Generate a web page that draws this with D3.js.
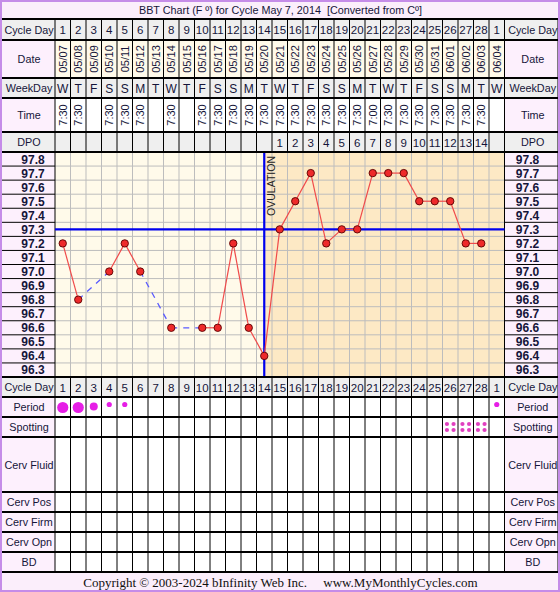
<!DOCTYPE html>
<html><head><meta charset="utf-8">
<script src="https://cdn.jsdelivr.net/npm/d3@7"></script>
<style>
html,body{margin:0;padding:0;background:#fff;}
svg{display:block;font-family:"Liberation Sans",Arial,sans-serif;}
</style></head>
<body><div id="chart"></div>
<script>
// ---- data ----
const cycleDays = ["1","2","3","4","5","6","7","8","9","10","11","12","13","14","15","16","17","18","19","20","21","22","23","24","25","26","27","28","1"];
const dates = ["05/07","05/08","05/09","05/10","05/11","05/12","05/13","05/14","05/15","05/16","05/17","05/18","05/19","05/20","05/21","05/22","05/23","05/24","05/25","05/26","05/27","05/28","05/29","05/30","05/31","06/01","06/02","06/03","06/04"];
const weekDays = ["W","T","F","S","S","M","T","W","T","F","S","S","M","T","W","T","F","S","S","M","T","W","T","F","S","S","M","T","W"];
const times = ["7:30","7:30","","7:30","7:30","7:30","","7:30","","7:30","7:30","7:30","7:30","7:30","7:30","7:30","7:30","7:30","7:30","7:30","7:00","7:30","7:30","7:30","7:30","7:30","7:30","7:30",""];
const dpo = ["","","","","","","","","","","","","","","1","2","3","4","5","6","7","8","9","10","11","12","13","14",""];
const temps = [97.2,96.8,null,97.0,97.2,97.0,null,96.6,null,96.6,96.6,97.2,96.6,96.4,97.3,97.5,97.7,97.2,97.3,97.3,97.7,97.7,97.7,97.5,97.5,97.5,97.2,97.2,null];
const tempTicks = [97.8,97.7,97.6,97.5,97.4,97.3,97.2,97.1,97.0,96.9,96.8,96.7,96.6,96.5,96.4,96.3];
const coverLine = 97.3;
const ovulationDay = 14; // cycle day index (1-based)
const period = [3,3,2,1,1,0,0,0,0,0,0,0,0,0,0,0,0,0,0,0,0,0,0,0,0,0,0,0,1]; // 0 none,1 light,2 medium,3 heavy
const spotting = [0,0,0,0,0,0,0,0,0,0,0,0,0,0,0,0,0,0,0,0,0,0,0,0,0,1,1,1,0];
const title = "BBT Chart (F º) for Cycle May 7, 2014  [Converted from Cº]";
const copyright = "Copyright © 2003-2024 bInfinity Web Inc.     www.MyMonthlyCycles.com";

// ---- layout ----
const W = 560, H = 592;
const LX0 = 2, LX1 = 55, RX0 = 504.5, RX1 = 558;
const TXT = "#15153a";
const PINK = "#fdf0fd", GREY = "#efefef", CREAM = "#fffaea", WHITE = "#ffffff";

const svg = d3.select("#chart").append("svg").attr("width", W).attr("height", H);

const idx = d3.range(cycleDays.length);
const x = d3.scaleBand().domain(idx).range([LX1, RX0]).paddingInner(0).paddingOuter(0);
const cx = i => x(i) + x.bandwidth() / 2;

const chartTop = 152, chartBot = 377;
const y = d3.scaleLinear().domain([96.25, 97.85]).range([chartBot, chartTop]);

// outer background
svg.append("rect").attr("x", 0).attr("y", 0).attr("width", W).attr("height", H).attr("fill", "#fff");
// title row
svg.append("rect").attr("x", 0).attr("y", 0).attr("width", W).attr("height", 19).attr("fill", "#fbeefb");
svg.append("text").attr("x", 280.5).attr("y", 14).attr("text-anchor", "middle")
  .attr("font-size", 10.8).attr("fill", TXT).style("white-space", "pre").text(title);

// rows definition
const topRows = [
  {name: "Cycle Day", y0: 19, y1: 40, lbg: GREY, cbg: GREY, vals: cycleDays, kind: "h", fs: 11.5},
  {name: "Date", y0: 40, y1: 78, lbg: PINK, cbg: CREAM, vals: dates, kind: "v", fs: 11},
  {name: "WeekDay", y0: 78, y1: 98, lbg: GREY, cbg: GREY, vals: weekDays, kind: "h", fs: 12},
  {name: "Time", y0: 98, y1: 132, lbg: PINK, cbg: WHITE, vals: times, kind: "v", fs: 11},
  {name: "DPO", y0: 132, y1: 152, lbg: GREY, cbg: GREY, vals: dpo, kind: "h", fs: 11.5}
];
const botRows = [
  {name: "Cycle Day", y0: 377, y1: 397, lbg: GREY, cbg: GREY, vals: cycleDays, kind: "h", fs: 11.5},
  {name: "Period", y0: 397, y1: 417, lbg: PINK, cbg: WHITE, vals: null},
  {name: "Spotting", y0: 417, y1: 437, lbg: PINK, cbg: WHITE, vals: null},
  {name: "Cerv Fluid", y0: 437, y1: 492, lbg: PINK, cbg: WHITE, vals: null},
  {name: "Cerv Pos", y0: 492, y1: 512, lbg: PINK, cbg: WHITE, vals: null},
  {name: "Cerv Firm", y0: 512, y1: 532, lbg: PINK, cbg: WHITE, vals: null},
  {name: "Cerv Opn", y0: 532, y1: 552, lbg: PINK, cbg: WHITE, vals: null},
  {name: "BD", y0: 552, y1: 572, lbg: PINK, cbg: WHITE, vals: null}
];

function drawRow(r) {
  const g = svg.append("g");
  g.append("rect").attr("x", LX0).attr("y", r.y0).attr("width", LX1 - LX0).attr("height", r.y1 - r.y0).attr("fill", r.lbg);
  g.append("rect").attr("x", RX0).attr("y", r.y0).attr("width", RX1 - RX0).attr("height", r.y1 - r.y0).attr("fill", r.lbg);
  g.selectAll("rect.cell").data(idx).join("rect").attr("class", "cell")
    .attr("x", i => x(i)).attr("y", r.y0).attr("width", x.bandwidth()).attr("height", r.y1 - r.y0).attr("fill", r.cbg);
  const ym = (r.y0 + r.y1) / 2;
  [ (LX0 + LX1) / 2 + 0.5, (RX0 + RX1) / 2 + 1.5 ].forEach(lx => {
    g.append("text").attr("x", lx).attr("y", ym + 4).attr("text-anchor", "middle")
      .attr("font-size", 10.8).attr("fill", TXT).text(r.name);
  });
  if (r.vals) {
    if (r.kind === "h") {
      g.selectAll("text.v").data(idx).join("text").attr("class", "v")
        .attr("x", i => cx(i)).attr("y", ym + 4.5).attr("text-anchor", "middle")
        .attr("font-size", r.fs).attr("fill", TXT).text(i => r.vals[i]);
    } else {
      g.selectAll("text.v").data(idx).join("text").attr("class", "v")
        .attr("transform", i => `translate(${cx(i) + 4},${ym}) rotate(-90)`)
        .attr("text-anchor", "middle").attr("font-size", r.fs).attr("fill", TXT).text(i => r.vals[i]);
    }
  }
  // vertical cell separators
  g.selectAll("line.vs").data(d3.range(cycleDays.length + 1)).join("line").attr("class", "vs")
    .attr("x1", i => i < cycleDays.length ? x(i) : RX0).attr("x2", i => i < cycleDays.length ? x(i) : RX0)
    .attr("y1", r.y0).attr("y2", r.y1).attr("stroke", "#000").attr("stroke-width", 1);
}
topRows.forEach(drawRow);
botRows.forEach(drawRow);

// ---- chart area ----
const cg = svg.append("g");
cg.append("rect").attr("x", LX1).attr("y", chartTop).attr("width", RX0 - LX1).attr("height", chartBot - chartTop).attr("fill", CREAM);
cg.append("rect").attr("x", cx(ovulationDay - 1)).attr("y", chartTop)
  .attr("width", RX0 - cx(ovulationDay - 1)).attr("height", chartBot - chartTop).attr("fill", "#fde9c5");
// grid
cg.selectAll("line.gv").data(idx.slice(1)).join("line").attr("class", "gv")
  .attr("x1", i => x(i)).attr("x2", i => x(i)).attr("y1", chartTop).attr("y2", chartBot)
  .attr("stroke", "#bdbdbd").attr("stroke-width", 1);
cg.selectAll("line.gh").data(tempTicks.slice(1)).join("line").attr("class", "gh")
  .attr("x1", LX1).attr("x2", RX0).attr("y1", t => y(t + 0.05)).attr("y2", t => y(t + 0.05))
  .attr("stroke", "#bdbdbd").attr("stroke-width", 1);

// temperature label columns
[[LX0, LX1, 33], [RX0, RX1, 527.5]].forEach(([a, b, tx]) => {
  cg.append("rect").attr("x", a).attr("y", chartTop).attr("width", b - a).attr("height", chartBot - chartTop).attr("fill", PINK);
  cg.selectAll(null).data(tempTicks.slice(1)).join("line")
    .attr("x1", a).attr("x2", b).attr("y1", t => y(t + 0.05)).attr("y2", t => y(t + 0.05))
    .attr("stroke", "#000").attr("stroke-width", 1);
  cg.selectAll(null).data(tempTicks).join("text")
    .attr("x", tx).attr("y", t => y(t) + 4.5).attr("text-anchor", "middle")
    .attr("font-size", 12).attr("font-weight", "bold").attr("fill", TXT).text(t => t.toFixed(1));
});
cg.append("line").attr("x1", LX1).attr("x2", LX1).attr("y1", chartTop).attr("y2", chartBot).attr("stroke", "#000");
cg.append("line").attr("x1", RX0).attr("x2", RX0).attr("y1", chartTop).attr("y2", chartBot).attr("stroke", "#000");

// cover line
cg.append("line").attr("x1", LX1).attr("x2", RX0).attr("y1", y(coverLine)).attr("y2", y(coverLine))
  .attr("stroke", "#0000ee").attr("stroke-width", 2.2);
// ovulation line
cg.append("line").attr("x1", cx(ovulationDay - 1)).attr("x2", cx(ovulationDay - 1))
  .attr("y1", chartTop).attr("y2", chartBot - 1).attr("stroke", "#0000ee").attr("stroke-width", 2.2);
cg.append("text").attr("transform", `translate(${cx(ovulationDay - 1) + 10.5},${chartTop + 4}) rotate(-90)`)
  .attr("text-anchor", "end").attr("font-size", 10.5).attr("fill", "#222").text("OVULATION");

// temperature lines
const pts = idx.filter(i => temps[i] != null);
const segs = [];
for (let k = 1; k < pts.length; k++) segs.push([pts[k - 1], pts[k]]);
cg.selectAll("line.seg").data(segs).join("line").attr("class", "seg")
  .attr("x1", s => cx(s[0])).attr("y1", s => y(temps[s[0]]))
  .attr("x2", s => cx(s[1])).attr("y2", s => y(temps[s[1]]))
  .attr("stroke", s => s[1] - s[0] > 1 ? "#5a5aff" : "#f04a4a")
  .attr("stroke-width", s => s[1] - s[0] > 1 ? 1.3 : 1.2)
  .attr("stroke-dasharray", s => s[1] - s[0] > 1 ? "6,6" : null);
cg.selectAll("circle.pt").data(pts).join("circle").attr("class", "pt")
  .attr("cx", i => cx(i)).attr("cy", i => y(temps[i])).attr("r", 3.7)
  .attr("fill", "#ee2a2a").attr("stroke", "#5a0000").attr("stroke-width", 0.9);

// period dots
const pr = [0, 2.6, 4, 5.6];
const py = [0, 404.5, 406.5, 407.5];
svg.selectAll("circle.per").data(idx.filter(i => period[i] > 0)).join("circle").attr("class", "per")
  .attr("cx", i => cx(i)).attr("cy", i => py[period[i]]).attr("r", i => pr[period[i]]).attr("fill", "#e61ee6");
// spotting dots
const spotOffsets = [[-3.3, -3], [3.3, -3], [-3.3, 3], [3.3, 3]];
idx.filter(i => spotting[i]).forEach(i => {
  svg.selectAll(null).data(spotOffsets).join("circle")
    .attr("cx", o => cx(i) + o[0]).attr("cy", o => 427 + o[1]).attr("r", 2.1).attr("fill", "#e040c0");
});

// horizontal separators (thick)
const seps = [19, 40, 78, 98, 132, 152, 377, 397, 417, 437, 492, 512, 532, 552, 572];
svg.selectAll("line.hs").data(seps).join("line").attr("class", "hs")
  .attr("x1", LX0).attr("x2", RX1).attr("y1", d => d).attr("y2", d => d)
  .attr("stroke", "#000").attr("stroke-width", 2);
svg.append("line").attr("x1", RX1).attr("x2", RX1).attr("y1", 19).attr("y2", 572).attr("stroke", "#000").attr("stroke-width", 1);

// copyright row
svg.append("rect").attr("x", 0).attr("y", 573).attr("width", W).attr("height", H - 573).attr("fill", "#fbeefb");
svg.append("text").attr("x", 280.5).attr("y", 587).attr("text-anchor", "middle")
  .attr("font-family", "'Liberation Serif','Times New Roman',serif").attr("font-size", 13)
  .attr("fill", "#111").style("white-space", "pre").text(copyright);

// outer lavender border
svg.append("rect").attr("x", 1).attr("y", 1).attr("width", W - 2).attr("height", H - 2)
  .attr("fill", "none").attr("stroke", "#c58ce8").attr("stroke-width", 2);
</script>
</body></html>
